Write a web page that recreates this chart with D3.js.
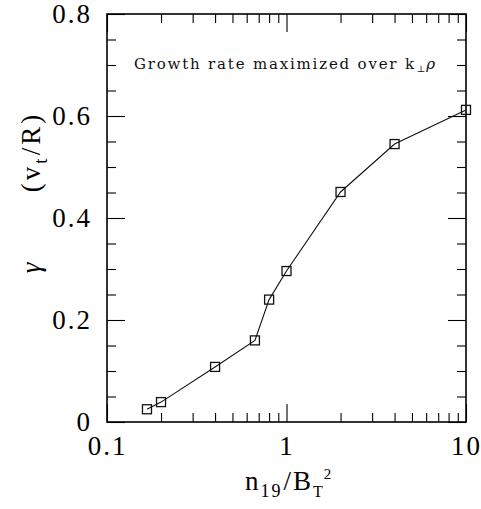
<!DOCTYPE html>
<html>
<head>
<meta charset="utf-8">
<script src="https://cdn.jsdelivr.net/npm/d3@7"></script>
<style>
html,body{margin:0;padding:0;background:#fff;}
svg{display:block;}
</style>
</head>
<body>
<svg id="chart" width="481" height="509"></svg>
<script>
// ---- data ----
const densityRatio = [0.167, 0.2, 0.4, 0.667, 0.8, 1.0, 2.0, 4.0, 10.0];   // n19 / B_T^2
const growthRate   = [0.025, 0.039, 0.108, 0.160, 0.240, 0.296, 0.451, 0.545, 0.612]; // gamma (v_t/R)
const xMajorTicks = [0.1, 1, 10];
const xTickLabels = ["0.1", "1", "10"];
const yMajorTicks = [0, 0.2, 0.4, 0.6, 0.8];
const yTickLabels = ["0", "0.2", "0.4", "0.6", "0.8"];

// ---- layout ----
const L = 107, R = 466, T = 14, B = 422;
const svg = d3.select("#chart");
const x = d3.scaleLog().domain([0.1, 10]).range([L, R]);
const y = d3.scaleLinear().domain([0, 0.8]).range([B, T]);

const xMinor = [];
[0.1, 1].forEach(d => { for (let k = 2; k <= 9; k++) xMinor.push(+(d * k).toFixed(3)); });
const yMinor = d3.range(0, 0.8001, 0.05).map(v => +v.toFixed(2)).filter(v => !yMajorTicks.includes(v));

const MAJ = 18, MIN = 9;
const fontTick = "'Liberation Serif', 'DejaVu Serif', serif";

function styleAxis(g) {
  g.select(".domain").remove();
  g.selectAll(".tick line").attr("stroke", "#000").attr("stroke-width", 1.1);
  g.selectAll(".tick text").attr("fill", "#000").attr("font-family", fontTick)
    .attr("font-size", 27).attr("letter-spacing", "2px");
}

// bottom axis
svg.append("g").attr("transform", `translate(0,${B})`)
  .call(d3.axisBottom(x).tickValues(xMajorTicks).tickSize(-MAJ).tickPadding(14)
    .tickFormat((d, i) => xTickLabels[i]))
  .call(styleAxis);
svg.append("g").attr("transform", `translate(0,${B})`)
  .call(d3.axisBottom(x).tickValues(xMinor).tickSize(-MIN).tickFormat(""))
  .call(styleAxis);
// top axis
svg.append("g").attr("transform", `translate(0,${T})`)
  .call(d3.axisTop(x).tickValues(xMajorTicks).tickSize(-MAJ).tickFormat(""))
  .call(styleAxis);
svg.append("g").attr("transform", `translate(0,${T})`)
  .call(d3.axisTop(x).tickValues(xMinor).tickSize(-MIN).tickFormat(""))
  .call(styleAxis);
// left axis
svg.append("g").attr("transform", `translate(${L},0)`)
  .call(d3.axisLeft(y).tickValues(yMajorTicks).tickSize(-MAJ).tickPadding(15)
    .tickFormat((d, i) => yTickLabels[i]))
  .call(styleAxis);
svg.append("g").attr("transform", `translate(${L},0)`)
  .call(d3.axisLeft(y).tickValues(yMinor).tickSize(-MIN).tickFormat(""))
  .call(styleAxis);
// right axis
svg.append("g").attr("transform", `translate(${R},0)`)
  .call(d3.axisRight(y).tickValues(yMajorTicks).tickSize(-MAJ).tickFormat(""))
  .call(styleAxis);
svg.append("g").attr("transform", `translate(${R},0)`)
  .call(d3.axisRight(y).tickValues(yMinor).tickSize(-MIN).tickFormat(""))
  .call(styleAxis);

// frame
svg.append("rect").attr("x", L).attr("y", T).attr("width", R - L).attr("height", B - T)
  .attr("fill", "none").attr("stroke", "#000").attr("stroke-width", 1.6);

// data line + markers
const pts = densityRatio.map((d, i) => [d, growthRate[i]]);
svg.append("path").datum(pts)
  .attr("fill", "none").attr("stroke", "#111").attr("stroke-width", 1.1)
  .attr("d", d3.line().x(d => x(d[0])).y(d => y(d[1])));
const S = 9;
svg.append("g").selectAll("rect").data(pts).join("rect")
  .attr("x", d => x(d[0]) - S / 2).attr("y", d => y(d[1]) - S / 2)
  .attr("width", S).attr("height", S)
  .attr("fill", "none").attr("stroke", "#111").attr("stroke-width", 1.3);

// annotation
const fontAnn = "'DejaVu Serif', 'Liberation Serif', serif";
const ann = svg.append("text").attr("x", 134).attr("y", 69)
  .attr("font-family", fontAnn).attr("font-size", 15).attr("fill", "#111");
ann.append("tspan").text("Growth rate maximized over k").attr("textLength", 280).attr("lengthAdjust", "spacing");
ann.append("tspan").text("⊥").attr("font-size", 9).attr("dy", 3).attr("dx", 1);
ann.append("tspan").text("ρ").attr("font-style", "italic").attr("dy", -3).attr("dx", 1);

// y label
svg.append("text").attr("transform", "translate(40,152) rotate(-90)")
  .attr("text-anchor", "middle").attr("font-family", fontTick).attr("font-size", 27)
  .attr("letter-spacing", "3px").attr("fill", "#000")
  .call(t => {
    t.append("tspan").text("(v");
    t.append("tspan").text("t").attr("font-size", 19).attr("dy", 7);
    t.append("tspan").text("/R)").attr("dy", -7);
  });
svg.append("text").attr("transform", "translate(40,268) rotate(-90)")
  .attr("text-anchor", "middle").attr("font-family", fontTick).attr("font-size", 27)
  .attr("font-style", "italic").attr("fill", "#000").text("γ");

// x label
const xl = svg.append("text").attr("x", 245).attr("y", 490)
  .attr("font-family", fontTick).attr("font-size", 27).attr("letter-spacing", "2px").attr("fill", "#000");
xl.append("tspan").text("n");
xl.append("tspan").text("19").attr("font-size", 18).attr("dy", 7);
xl.append("tspan").text("/B").attr("dy", -7).attr("dx", 1);
xl.append("tspan").text("T").attr("font-size", 16).attr("dy", 7);
xl.append("tspan").text("2").attr("font-size", 15).attr("dy", -18).attr("dx", -1);
</script>
</body>
</html>
